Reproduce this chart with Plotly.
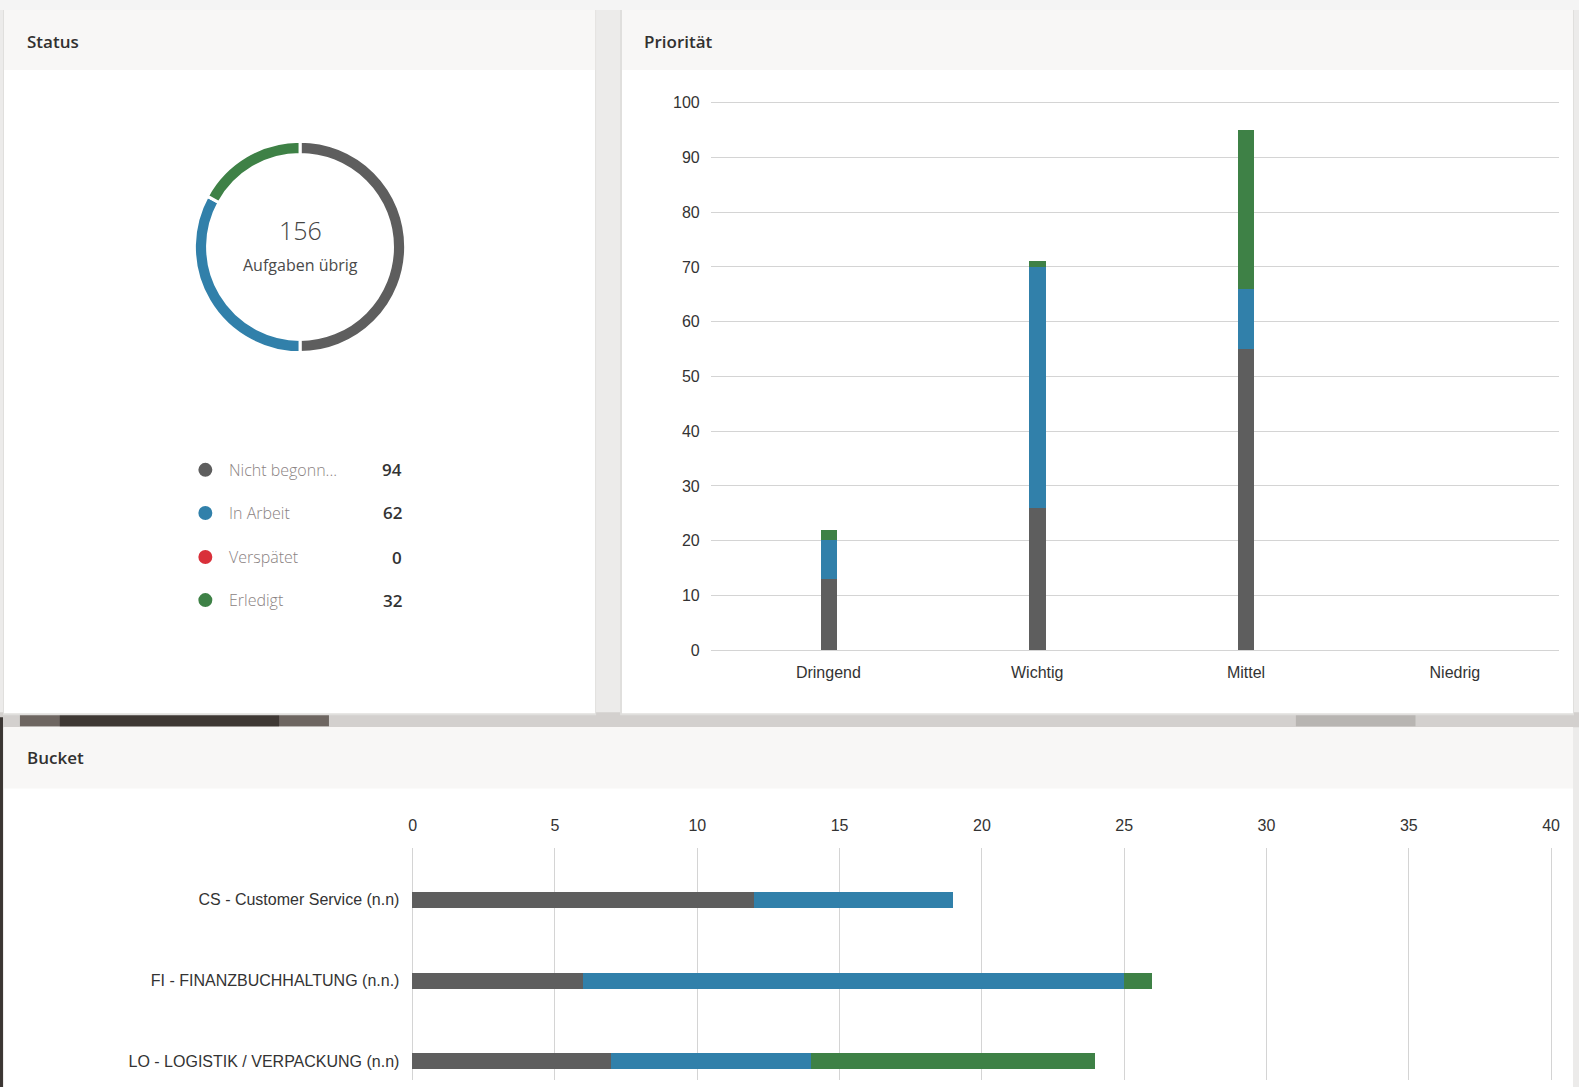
import plotly.graph_objects as go

W, H = 1579, 1087

# ---------------- data ----------------
status_labels = ["Nicht begonnen", "In Arbeit", "Verspätet", "Erledigt"]
status_legend_text = ["Nicht begonn...", "In Arbeit", "Verspätet", "Erledigt"]
status_values = [94, 62, 0, 32]
status_colors = ["#5e5e5e", "#3180aa", "#d9303a", "#3e8146"]
remaining_total = 156
remaining_label = "Aufgaben übrig"

prio_categories = ["Dringend", "Wichtig", "Mittel", "Niedrig"]
prio_nicht = [13, 26, 55, 0]
prio_arbeit = [7, 44, 11, 0]
prio_spaet = [0, 0, 0, 0]
prio_erledigt = [2, 1, 29, 0]
prio_ticks = [0, 10, 20, 30, 40, 50, 60, 70, 80, 90, 100]

bucket_categories = ["CS - Customer Service (n.n)", "FI - FINANZBUCHHALTUNG (n.n.)", "LO - LOGISTIK / VERPACKUNG (n.n)"]
bucket_nicht = [12, 6, 7]
bucket_arbeit = [7, 19, 7]
bucket_spaet = [0, 0, 0]
bucket_erledigt = [0, 1, 10]
bucket_ticks = [0, 5, 10, 15, 20, 25, 30, 35, 40]

# screen-position compensation (observed render offset/scale)
OX, SX = 0.0, 1.0
OY, SY = 3.0, 0.989


def fx(x):
    return (x - OX) / SX


def fy(y):
    return (y - OY) / SY


def px(x):
    return fx(x) / W


def py(y):
    return 1 - fy(y) / H


fig = go.Figure()

# ---------------- donut ----------------
cx, cy, r = 301, 246.5, 106
fig.add_trace(go.Pie(
    labels=status_labels, values=status_values,
    marker=dict(colors=status_colors, line=dict(color="white", width=3)),
    hole=0.875, sort=False, direction="clockwise", rotation=0,
    textinfo="none", hoverinfo="label+value", showlegend=False,
    domain=dict(x=[px(cx - r), px(cx + r)], y=[py(cy + r), py(cy - r)]),
))

# ---------------- Priorität (vertical stacked bars) ----------------
prio_series = [("Nicht begonnen", prio_nicht, status_colors[0]),
               ("In Arbeit", prio_arbeit, status_colors[1]),
               ("Verspätet", prio_spaet, status_colors[2]),
               ("Erledigt", prio_erledigt, status_colors[3])]
for name, vals, col in prio_series:
    fig.add_trace(go.Bar(x=prio_categories, y=vals, name=name, marker_color=col,
                         marker_line_width=0, width=0.077,
                         xaxis="x2", yaxis="y2", showlegend=False))

# ---------------- Bucket (horizontal stacked bars) ----------------
for name, vals, col in [("Nicht begonnen", bucket_nicht, status_colors[0]),
                        ("In Arbeit", bucket_arbeit, status_colors[1]),
                        ("Verspätet", bucket_spaet, status_colors[2]),
                        ("Erledigt", bucket_erledigt, status_colors[3])]:
    fig.add_trace(go.Bar(y=bucket_categories, x=vals, name=name, orientation="h",
                         marker_color=col, marker_line_width=0, width=0.2,
                         xaxis="x3", yaxis="y3", showlegend=False))

# axis geometry (target screen pixels)
p_x0, p_x1 = 713, 1564
cat0_px, cat_step = 831, 209.5
p_y0_px, p_y100_px = 649, 102.5
unit_y = (p_y0_px - p_y100_px) / 100
y_lo, y_hi = -0.3, 101
b_x0_px, b_x40_px = 414, 1556
unit_b = (b_x40_px - b_x0_px) / 40
bx_lo, bx_hi = -0.15, 40.15
b_top_px = 846
b_row0 = 898
b_row_step = 80.5
step_f = b_row_step / SY

x2_lo = -(cat0_px - p_x0) / cat_step
x2_hi = x2_lo + (p_x1 - p_x0) / cat_step

tick_font = dict(family="Liberation Sans, Arial", size=16, color="#333333")
grid_c = "#d4d4d4"

fig.update_layout(
    width=W, height=H,
    margin=dict(l=0, r=0, t=0, b=0),
    paper_bgcolor="#ecebea",
    plot_bgcolor="rgba(0,0,0,0)",
    barmode="stack",
    bargap=0,
    xaxis2=dict(domain=[px(p_x0), px(p_x1)], anchor="y2", type="category",
                categoryorder="array", categoryarray=prio_categories,
                range=[x2_lo, x2_hi], showgrid=False, zeroline=False, showline=False,
                ticks="", tickfont=tick_font, ticklabelstandoff=9, fixedrange=True),
    yaxis2=dict(domain=[py(p_y0_px + (0 - y_lo) * unit_y), py(p_y100_px - (y_hi - 100) * unit_y)],
                anchor="x2", range=[y_lo, y_hi], tickvals=prio_ticks,
                showgrid=True, gridcolor=grid_c, gridwidth=1, zeroline=False,
                showline=False, ticks="", tickfont=tick_font, ticklabelstandoff=10,
                fixedrange=True),
    xaxis3=dict(domain=[px(b_x0_px + bx_lo * unit_b), px(b_x40_px + (bx_hi - 40) * unit_b)],
                anchor="y3", side="top", range=[bx_lo, bx_hi], tickvals=bucket_ticks,
                showgrid=True, gridcolor=grid_c, gridwidth=1, zeroline=False,
                showline=False, ticks="", tickfont=tick_font, ticklabelstandoff=12,
                fixedrange=True),
    yaxis3=dict(domain=[0, py(b_top_px)], anchor="x3", type="category",
                categoryorder="array", categoryarray=bucket_categories,
                range=[(H - fy(b_row0)) / step_f, -(fy(b_row0) - fy(b_top_px)) / step_f],
                showgrid=False, zeroline=False, showline=False, ticks="",
                tickfont=tick_font, ticklabelstandoff=8, fixedrange=True),
)

shapes = []


def rect(x0, y0, x1, y1, color, opacity=1.0):
    shapes.append(dict(type="rect", xref="paper", yref="paper",
                       x0=px(x0), x1=px(x1), y0=py(y1), y1=py(y0),
                       fillcolor=color, line=dict(width=0), layer="below",
                       opacity=opacity))


# top strip
rect(-5, -5, W + 5, 10, "#f4f4f4")
# streak between rows
rect(-5, 711, W + 5, 726, "#d3d0ce")
rect(20, 713, 330, 725, "#6e6661")
rect(60, 713, 280, 725, "#3f3834")
rect(1300, 713, 1420, 725, "#b8b5b2")
rect(-5, 716, 3, H + 20, "#3b3633")
# panel shadows
rect(3, 10, 598, 714, "#e0dfdd")
rect(622, 10, 1579, 714, "#e0dfdd")
# panels
for (x0, y0, x1, y1, hb) in [(4, 10, 597, 712, 70), (624, 10, 1578, 712, 70), (4, 726, 1578, H + 20, 787)]:
    rect(x0, y0, x1, y1, "#ffffff")
    rect(x0, y0, x1, hb, "#f8f7f6")

# status legend dots
legend_rows = [469, 512, 556, 599]
for yy, col in zip(legend_rows, status_colors):
    shapes.append(dict(type="circle", xref="paper", yref="paper",
                       x0=px(199), x1=px(213), y0=py(yy + 7), y1=py(yy - 7),
                       fillcolor=col, line=dict(width=0), layer="above"))

fig.update_layout(shapes=shapes)

ann = []
title_font = dict(family="Open Sans", size=17, color="#323130", weight=600)
for text, x, y in [("Status", 25, 41), ("Priorität", 644, 41), ("Bucket", 25, 756)]:
    ann.append(dict(text=text, x=px(x), y=py(y), xref="paper", yref="paper",
                    xanchor="left", yanchor="middle", showarrow=False, font=title_font))

ann.append(dict(text=str(remaining_total), x=px(cx), y=py(230), xref="paper", yref="paper",
                xanchor="center", yanchor="middle", showarrow=False,
                font=dict(family="Open Sans", size=25, color="#444444", weight=300)))
ann.append(dict(text=remaining_label, x=px(cx), y=py(265), xref="paper", yref="paper",
                xanchor="center", yanchor="middle", showarrow=False,
                font=dict(family="Open Sans", size=16, color="#4a4a4a")))

for yy, lab, val in zip(legend_rows, status_legend_text, status_values):
    ann.append(dict(text=lab, x=px(228), y=py(yy), xref="paper", yref="paper",
                    xanchor="left", yanchor="middle", showarrow=False,
                    font=dict(family="Open Sans", size=16, color="#8a8282", weight=300)))
    ann.append(dict(text=str(val), x=px(405), y=py(yy), xref="paper", yref="paper",
                    xanchor="right", yanchor="middle", showarrow=False,
                    font=dict(family="Open Sans", size=17, color="#333333", weight=600)))

fig.update_layout(annotations=ann)

fig.write_html("out.html")
